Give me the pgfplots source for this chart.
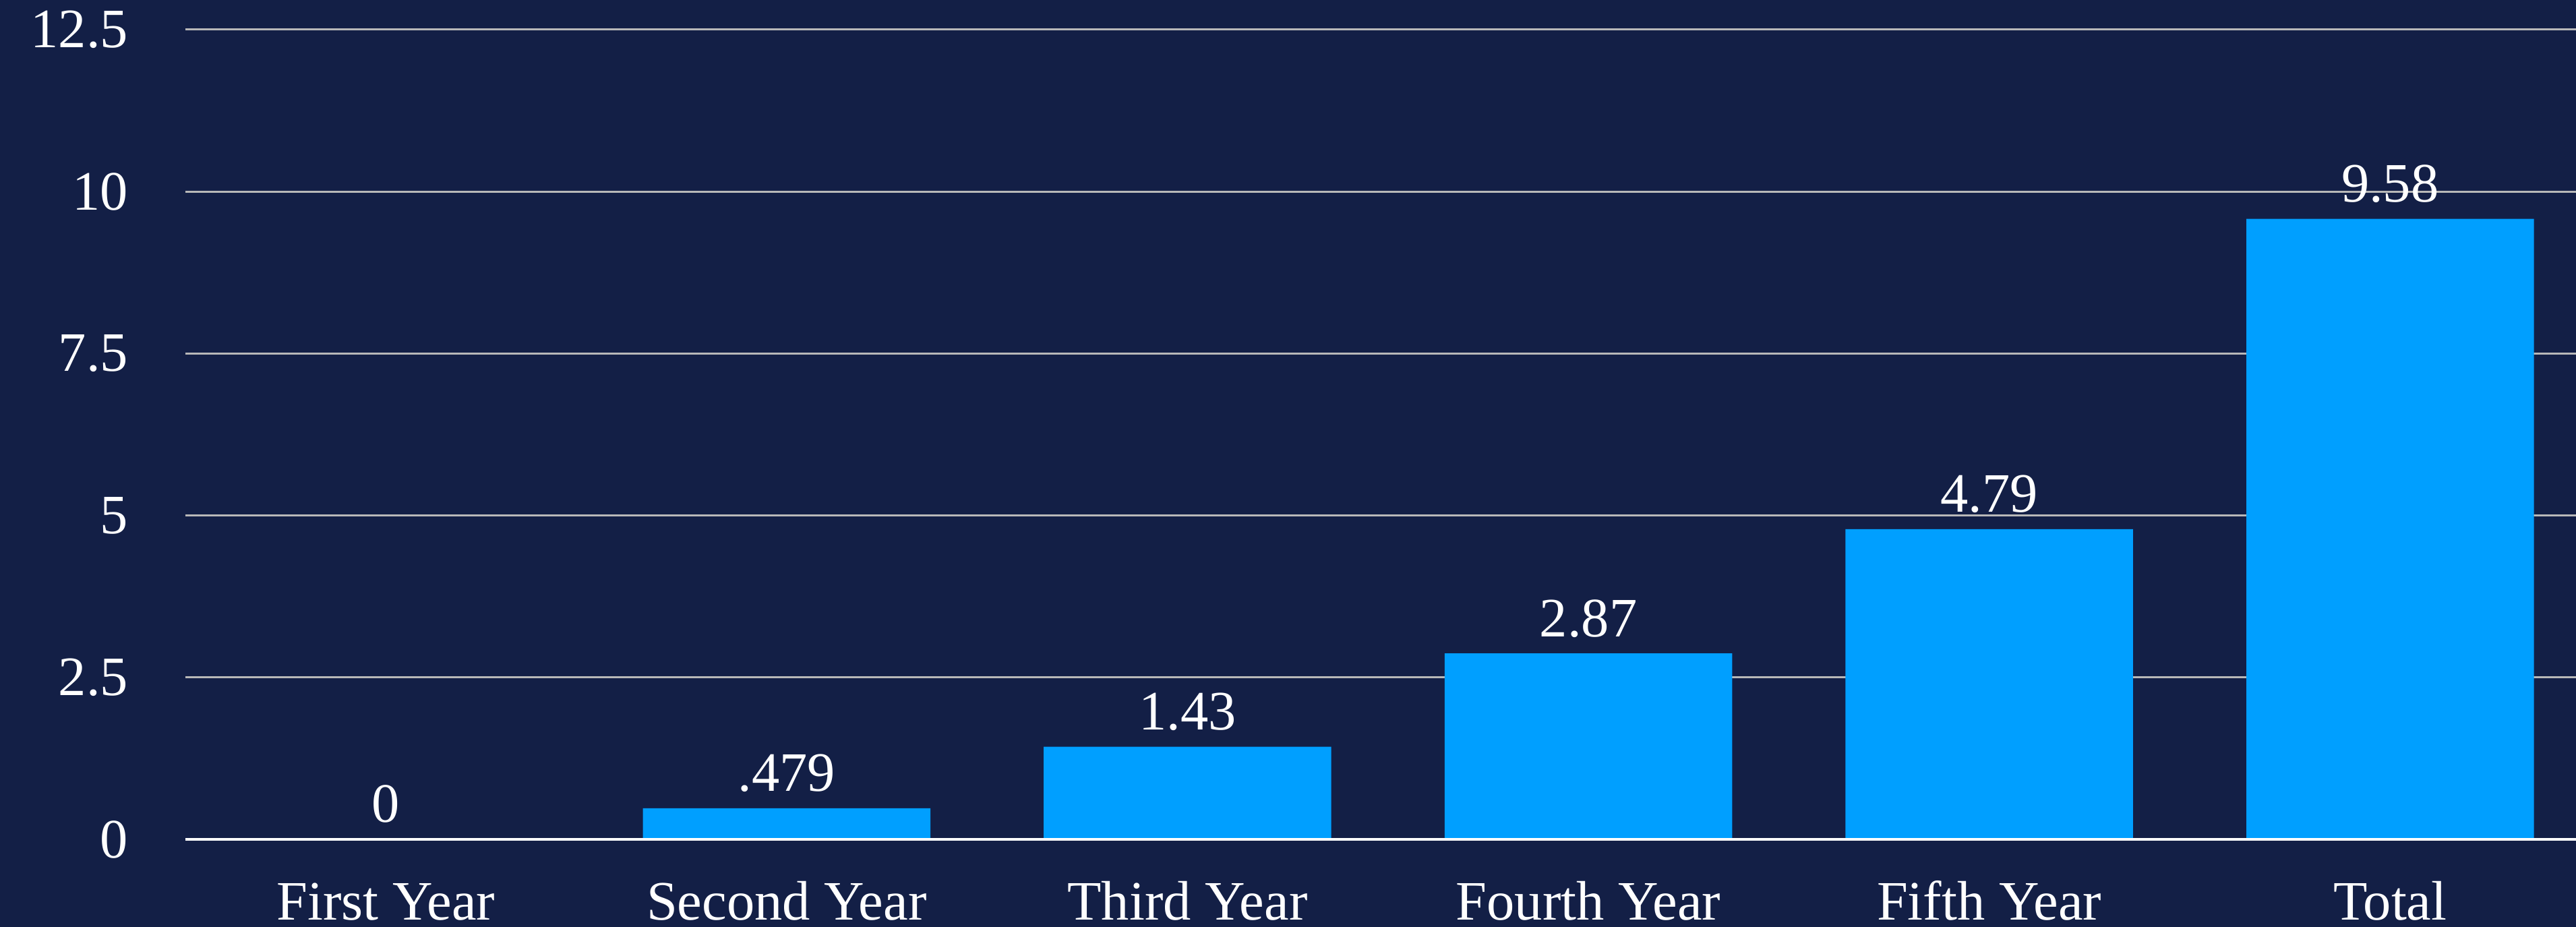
\documentclass[border=0pt]{standalone}
\usepackage{pgfplots}
\pgfplotsset{compat=1.18}
\usepackage{fontspec}
\setmainfont{Liberation Serif}

\definecolor{bgnavy}{HTML}{131F46}
\definecolor{barblue}{HTML}{009FFF}
\definecolor{gridgray}{HTML}{B8B8B8}

\begin{document}
\begin{tikzpicture}[font=\fontsize{16.5}{19}\selectfont]
  % background, same size as the final bounding box
  \fill[bgnavy] (-55pt,-26pt) rectangle (709.2pt,249pt);
  \begin{axis}[
      scale only axis,
      width=713.5pt,
      height=240.2pt,
      xmin=-0.5, xmax=5.5,
      ymin=0, ymax=12.5,
      clip=false,
      axis line style={draw=none},
      major tick length=0pt,
      xtick={0,1,2,3,4,5},
      xticklabels={First Year,Second Year,Third Year,Fourth Year,Fifth Year,Total},
      ytick={0,2.5,5,7.5,10,12.5},
      yticklabels={0,2.5,5,7.5,10,12.5},
      ymajorgrids,
      grid style={gridgray, line width=0.6pt},
      ticklabel style={text=white},
      xticklabel style={anchor=base, inner sep=0pt, yshift=-24pt},
      yticklabel style={anchor=east, inner sep=0pt, xshift=-16.8pt},
      /pgf/number format/assume math mode=true,
      point meta=explicit symbolic,
      nodes near coords,
      nodes near coords style={text=white, anchor=base, inner sep=0pt, yshift=5pt},
    ]
    \addplot[ybar, bar width=85.3pt, fill=barblue, draw=none] coordinates {
      (0,0) [0]
      (1,0.479) [.479]
      (2,1.43) [1.43]
      (3,2.87) [2.87]
      (4,4.79) [4.79]
      (5,9.58) [9.58]
    };
    \draw[white, line width=0.8pt] (axis cs:-0.5,0) -- (axis cs:5.5,0);
  \end{axis}
  \pgfresetboundingbox
  \useasboundingbox (-55pt,-26pt) rectangle (709.2pt,249pt);
\end{tikzpicture}
\end{document}
